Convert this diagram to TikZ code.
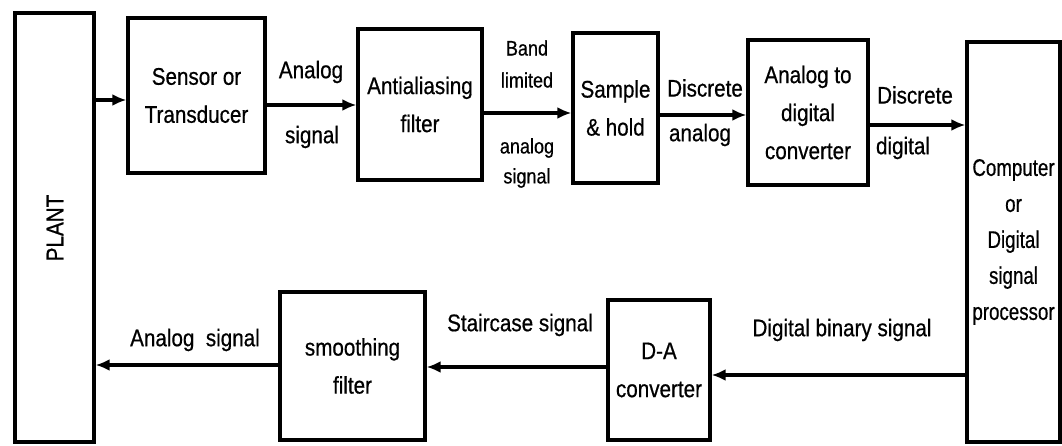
\documentclass[tikz,border=0pt]{standalone}
\usepackage{fontspec}
\setmainfont[FakeStretch=0.86,FakeBold=0.6]{Liberation Sans}
\newfontfamily\narrowf[FakeStretch=0.78,FakeBold=0.6]{Liberation Sans}
\usetikzlibrary{arrows.meta}
\begin{document}
\begin{tikzpicture}[x=1pt,y=-1pt,
  blk/.style={draw,line width=3.2pt,inner sep=0pt,align=center,
    font=\fontsize{24}{38}\selectfont},
  arr/.style={line width=3.6pt,-{Latex[length=14pt,width=12pt]}},
  lbl/.style={inner sep=0pt,font=\fontsize{24}{38}\selectfont},
  slbl/.style={inner sep=0pt,font=\fontsize{21}{32}\selectfont}]
\useasboundingbox (0,0) rectangle (1062,446);
% blocks
\node[blk,minimum width=79pt,minimum height=429pt] (P) at (54.5,227.5) {};
\node[rotate=90,lbl] (Pt) at (55,228) {PLANT};
\node[blk,minimum width=137pt,minimum height=155pt] (S) at (196.5,95.5) {Sensor or\\Transducer};
\node[blk,minimum width=124pt,minimum height=151pt] (AA) at (420,104.5) {Antialiasing\\filter};
\node[blk,minimum width=85pt,minimum height=150pt] (SH) at (615.5,108) {Sample\\\& hold};
\node[blk,minimum width=120pt,minimum height=145pt] (ADC) at (808,112.5) {Analog to\\digital\\converter};
\node[blk,minimum width=93pt,minimum height=400pt,font=\narrowf\fontsize{24}{36}\selectfont] (CPU) at (1013.5,242) {Computer\\or\\Digital\\signal\\processor};
\node[blk,minimum width=102pt,minimum height=140pt] (DA) at (659,370) {D-A\\converter};
\node[blk,minimum width=145pt,minimum height=148pt] (SM) at (352.5,366) {smoothing\\filter};
% connectors
\draw[arr] (P.east |- 0,100) -- (S.west |- 0,100);
\draw[arr] (S.east |- 0,105) -- (AA.west |- 0,105);
\draw[arr] (AA.east |- 0,113) -- (SH.west |- 0,113);
\draw[arr] (SH.east |- 0,115) -- (ADC.west |- 0,115);
\draw[arr] (ADC.east |- 0,125) -- (CPU.west |- 0,125);
\draw[arr] (CPU.west |- 0,375) -- (DA.east |- 0,375);
\draw[arr] (DA.west |- 0,367) -- (SM.east |- 0,367);
\draw[arr] (SM.west |- 0,365) -- (P.east |- 0,365);
% labels
\node[lbl] (l1) at (311,72) {Analog};
\node[lbl] (l2) at (312,137) {signal};
\node[slbl] (l3) at (527,48) {Band};
\node[slbl] (l4) at (527,80) {limited};
\node[slbl] (l5) at (527,148) {analog};
\node[slbl] (l6) at (527,178) {signal};
\node[lbl] (l7) at (705,88) {Discrete};
\node[lbl] (l8) at (700,135) {analog};
\node[lbl] (l9) at (915,95) {Discrete};
\node[lbl] (l10) at (903,148) {digital};
\node[lbl] (l11) at (842,330) {Digital binary signal};
\node[lbl] (l12) at (520,325) {Staircase signal};
\node[lbl] (l13) at (195,340) {Analog\ \ signal};
\end{tikzpicture}
\end{document}
